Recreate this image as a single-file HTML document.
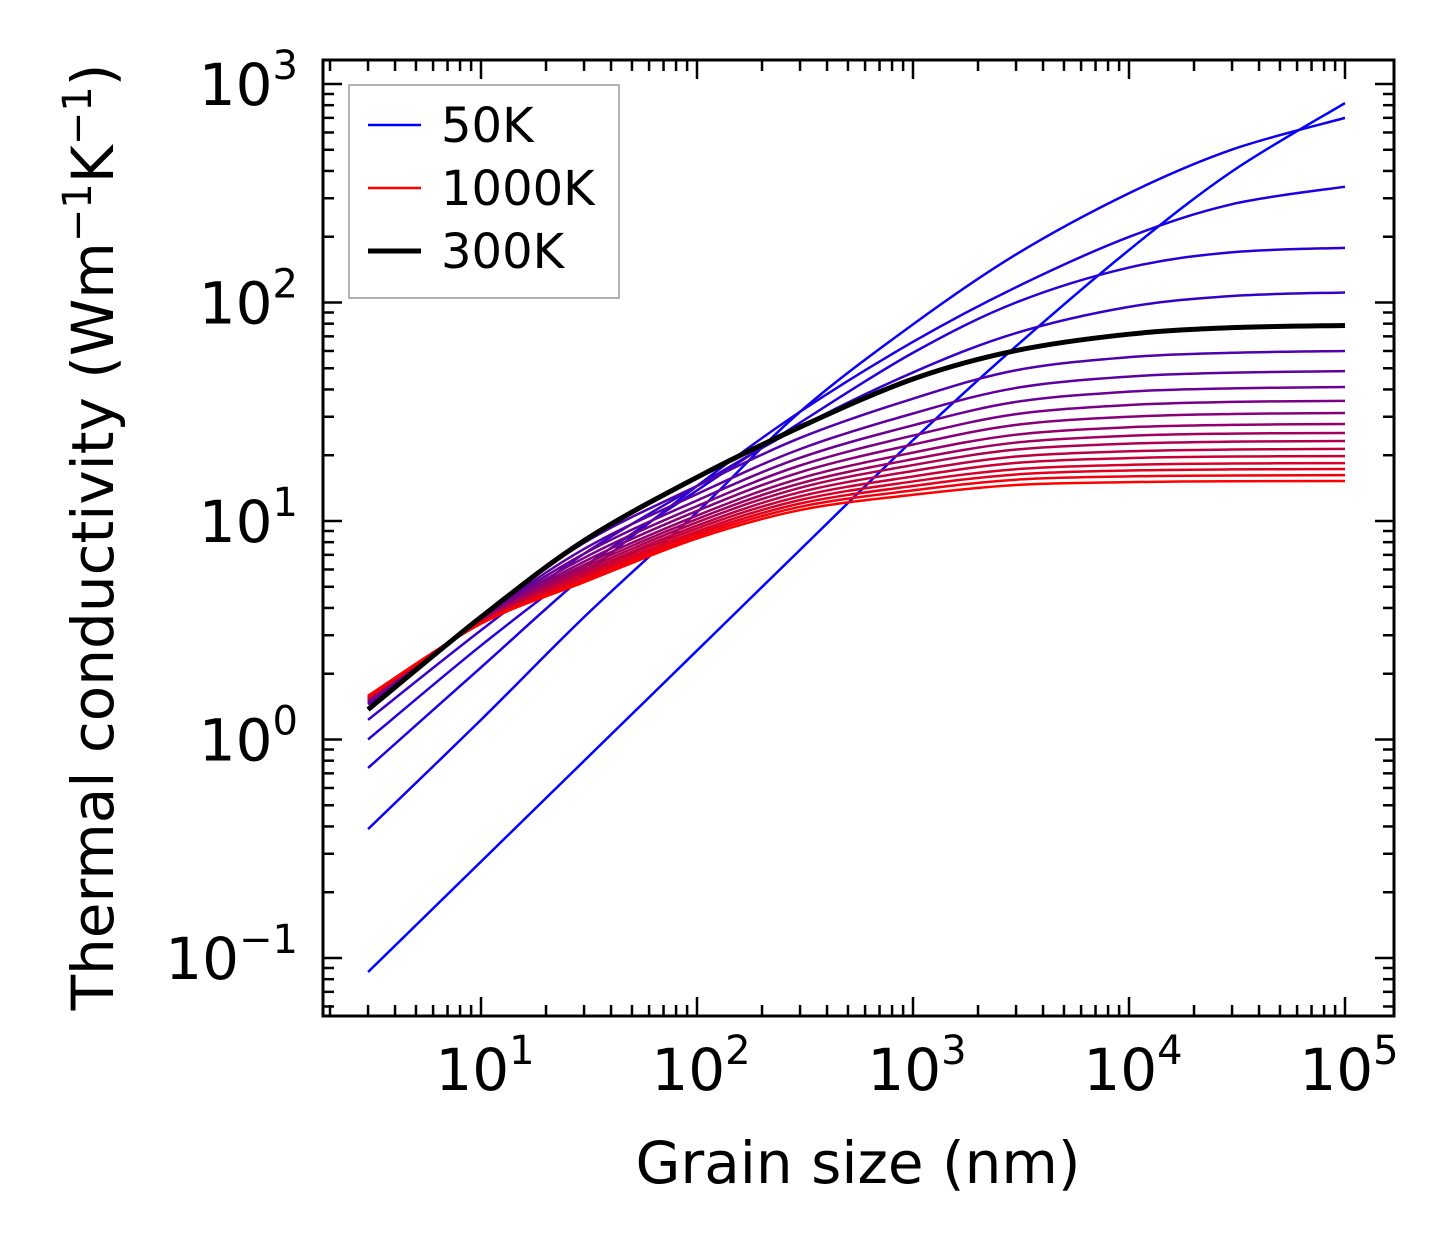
<!DOCTYPE html>
<html><head><meta charset="utf-8">
<style>
html,body{margin:0;padding:0;background:#fff;}
svg{display:block;font-family:"DejaVu Sans","Liberation Sans",sans-serif;}
</style></head>
<body>
<svg id="chart" width="1454" height="1254" viewBox="0 0 1454 1254" xmlns="http://www.w3.org/2000/svg">
<rect x="0" y="0" width="1454" height="1254" fill="#fff"/>
<g id="curves"></g>
<g id="ticks"></g>
<rect x="323" y="60" width="1071" height="956" fill="none" stroke="#000" stroke-width="3"/>
<g id="xlabels"></g>
<g id="ylabels"></g>
<text x="858" y="1183" font-size="58" text-anchor="middle">Grain size (nm)</text>
<text transform="translate(113,537) rotate(-90)" font-size="58" text-anchor="middle">Thermal conductivity (Wm<tspan font-size="40" dy="-22">−1</tspan><tspan dy="22">K</tspan><tspan font-size="40" dy="-22">−1</tspan><tspan dy="22">)</tspan></text>
<g>
<rect x="349" y="85" width="270" height="213" fill="#fff" stroke="#999" stroke-width="1.5"/>
<line x1="368" y1="125" x2="421" y2="125" stroke="#0000ff" stroke-width="2.5"/>
<text x="441" y="142" font-size="48">50K</text>
<line x1="368" y1="188" x2="421" y2="188" stroke="#ff0000" stroke-width="2.5"/>
<text x="441" y="205" font-size="48">1000K</text>
<line x1="368" y1="251" x2="421" y2="251" stroke="#000" stroke-width="5"/>
<text x="441" y="268" font-size="48">300K</text>
</g>
</svg>
<script>
// grain sizes (nm)
const grainSizes = [3, 10, 30, 100, 300, 1000, 3000, 10000, 30000, 100000];
// temperatures (K)
const temperatures = [50,100,150,200,250,300,350,400,450,500,550,600,650,700,750,800,850,900,950,1000];
// log10 thermal conductivity per temperature, at each grain size
const k50 = [-1.064,-0.559,-0.098,0.407,0.868,1.37,1.80,2.24,2.60,2.913];
const k100 = [-0.41,0.09,0.56,1.04,1.50,1.90,2.22,2.50,2.70,2.845];
const k150 = [-0.13,0.33,0.75,1.16,1.50,1.82,2.07,2.30,2.45,2.53];
const k200 = [0.00,0.43,0.79,1.14,1.45,1.77,2.00,2.16,2.23,2.25];
const k250 = [0.09,0.50,0.85,1.16,1.43,1.68,1.86,1.98,2.03,2.046];
const k300 = [0.137,0.56,0.91,1.20,1.43,1.65,1.78,1.855,1.885,1.895];
const k350 = [0.160,0.560,0.900,1.160,1.380,1.560,1.690,1.750,1.770,1.778];
const k400 = [0.166,0.555,0.872,1.123,1.329,1.492,1.609,1.661,1.679,1.686];
const k450 = [0.171,0.552,0.850,1.094,1.289,1.438,1.545,1.592,1.607,1.613];
const k500 = [0.175,0.549,0.831,1.068,1.254,1.391,1.489,1.531,1.545,1.550];
const k550 = [0.179,0.546,0.814,1.046,1.223,1.350,1.440,1.477,1.490,1.494];
const k600 = [0.182,0.543,0.799,1.025,1.195,1.313,1.395,1.429,1.440,1.444];
const k650 = [0.185,0.541,0.787,1.009,1.172,1.283,1.359,1.390,1.400,1.403];
const k700 = [0.188,0.539,0.775,0.994,1.152,1.256,1.327,1.354,1.363,1.366];
const k750 = [0.190,0.537,0.764,0.979,1.132,1.229,1.295,1.319,1.327,1.330];
const k800 = [0.192,0.536,0.755,0.966,1.113,1.204,1.266,1.288,1.295,1.297];
const k850 = [0.194,0.534,0.745,0.953,1.096,1.181,1.237,1.257,1.263,1.265];
const k900 = [0.196,0.533,0.737,0.942,1.080,1.160,1.213,1.231,1.236,1.238];
const k950 = [0.198,0.531,0.728,0.931,1.065,1.140,1.189,1.204,1.208,1.210];
const k1000 = [0.200,0.530,0.720,0.920,1.050,1.120,1.165,1.178,1.182,1.183];
const series = [k50,k100,k150,k200,k250,k300,k350,k400,k450,k500,k550,k600,k650,k700,k750,k800,k850,k900,k950,k1000];
const xTickExps = [1,2,3,4,5];
const yTickExps = [-1,0,1,2,3];

const NS = 'http://www.w3.org/2000/svg';
const X0=323, X1=1394, Y0=60, Y1=1016;
const xLogMin = 1 - (481-323)/216, xPerDec = 216;
const yLogMax = 3 + (84-60)/218.5, yPerDec = 218.5;
function xs(v){ return X0 + (Math.log10(v) - xLogMin) * xPerDec; }
function ysLog(l){ return Y0 + (yLogMax - l) * yPerDec; }

function mk(tag, attrs, parent){
  const e = document.createElementNS(NS, tag);
  for (const k in attrs) e.setAttribute(k, attrs[k]);
  parent.appendChild(e); return e;
}
function pathFor(vals){
  const p = grainSizes.map((g,i)=>[xs(g), ysLog(vals[i])]);
  let d = 'M'+p[0][0].toFixed(2)+','+p[0][1].toFixed(2);
  for (let i=0;i<p.length-1;i++){
    const a=p[Math.max(0,i-1)], b=p[i], c=p[i+1], e=p[Math.min(p.length-1,i+2)];
    const c1=[b[0]+(c[0]-a[0])/6, b[1]+(c[1]-a[1])/6];
    const c2=[c[0]-(e[0]-b[0])/6, c[1]-(e[1]-b[1])/6];
    d += ' C'+c1[0].toFixed(2)+','+c1[1].toFixed(2)+' '+c2[0].toFixed(2)+','+c2[1].toFixed(2)+' '+c[0].toFixed(2)+','+c[1].toFixed(2);
  }
  return d;
}
const cg = document.getElementById('curves');
series.forEach((vals, i) => {
  const T = temperatures[i];
  const t = (T-50)/950;
  const col = 'rgb('+Math.round(255*t)+',0,'+Math.round(255*(1-t))+')';
  const el = mk('path', {d: pathFor(vals), fill:'none', stroke: col, 'stroke-width': 2.5}, cg);
  
  
});
const blk = mk('path', {d: pathFor(k300), fill:'none', stroke:'#000', 'stroke-width': 5}, cg);



// ticks
const tg = document.getElementById('ticks');
function tick(x1,y1,x2,y2){
  const l = mk('line',{x1,y1,x2,y2,stroke:'#000','stroke-width':2.5}, tg);
  
  
}
for (let e=0;e<=5;e++){
  for (let m=1;m<=9;m++){
    const v = m*Math.pow(10,e);
    const x = xs(v);
    if (x<X0+1 || x>X1-1) continue;
    const len = m===1?19:11;
    tick(x,Y1,x,Y1-len); tick(x,Y0,x,Y0+len);
  }
}
for (let e=-2;e<=3;e++){
  for (let m=1;m<=9;m++){
    const l = e + Math.log10(m);
    const y = ysLog(l);
    if (y<Y0+1 || y>Y1-1) continue;
    const len = m===1?19:11;
    tick(X0,y,X0+len,y); tick(X1,y,X1-len,y);
  }
}
// tick labels
const xl = document.getElementById('xlabels');
xTickExps.forEach(e=>{
  const t = mk('text',{x: xs(Math.pow(10,e))+4, y:1090, 'font-size':58, 'text-anchor':'middle'}, xl);
  
  
  t.innerHTML = '10<tspan font-size="40" dy="-26">'+e+'</tspan>';
});
const yl = document.getElementById('ylabels');
yTickExps.forEach(e=>{
  const t = mk('text',{x: 298, y: ysLog(e)+21, 'font-size':58, 'text-anchor':'end'}, yl);
  
  
  t.innerHTML = '10<tspan font-size="40" dy="-26">'+(e<0?'−'+(-e):e)+'</tspan>';
});
</script>
</body></html>
